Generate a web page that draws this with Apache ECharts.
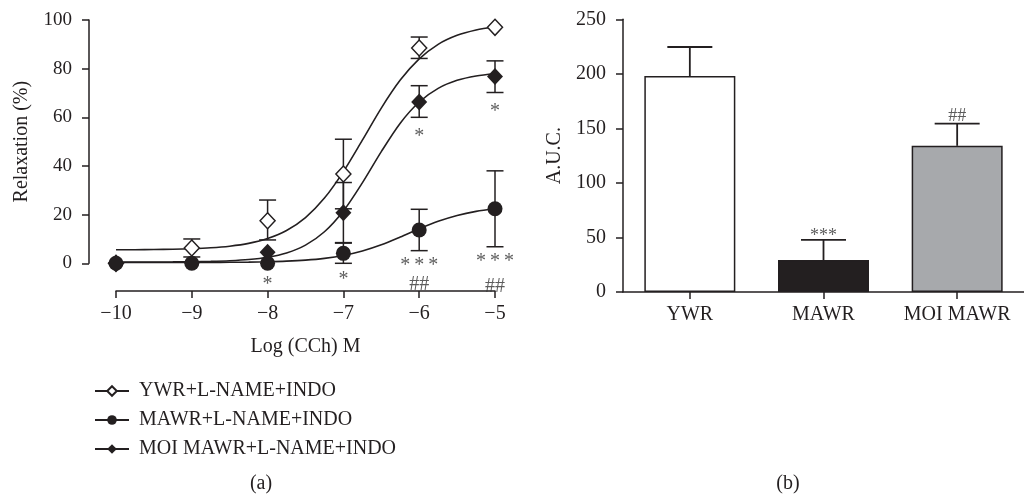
<!DOCTYPE html>
<html>
<head>
<meta charset="utf-8">
<script src="https://cdn.jsdelivr.net/npm/echarts@6/dist/echarts.min.js"></script>
<style>
html,body{margin:0;padding:0;background:#fff;}
#c{width:1024px;height:497px;}
</style>
</head>
<body>
<div id="c"></div>
<script>
// ---------- Panel (a): concentration-response ----------
var doseX = [-10, -9, -8, -7, -6, -5];
var xTicks = [-10, -9, -8, -7, -6, -5];
var ywrMean  = [0, 6.3, 17.5, 36.7, 88.5, 97];
var ywrLow   = [null, 2.6, 9.6, 22.4, 84.2, null];
var ywrHigh  = [null, 10, 26, 51, 93, null];
var mawrMean = [0, 0, 0, 4.1, 13.7, 22.4];
var mawrLow  = [null, null, null, 0, 5.2, 6.8];
var mawrHigh = [null, null, null, 8.3, 22.2, 38];
var moiMean  = [0, null, 4.5, 20.8, 66.3, 76.8];
var moiLow   = [null, null, null, 8.5, 60, 70.2];
var moiHigh  = [null, null, null, 33.2, 73, 83.2];

// fitted curves, every 0.25 log unit
var curveX = [-10, -9.75, -9.5, -9.25, -9, -8.75, -8.5, -8.25, -8, -7.75, -7.5, -7.25, -7, -6.75, -6.5, -6.25, -6, -5.75, -5.5, -5.25, -5];
var ywrCurve  = [5.55, 5.59, 5.66, 5.78, 5.99, 6.36, 7.03, 8.18, 10.16, 13.48, 18.8, 26.8, 37.7, 50.6, 63.8, 75.3, 84.0, 90.0, 93.7, 95.9, 97.25];
var mawrCurve = [0.3, 0.3, 0.31, 0.32, 0.33, 0.36, 0.41, 0.49, 0.63, 0.88, 1.31, 2.04, 3.23, 5.06, 7.61, 10.79, 14.18, 17.25, 19.66, 21.35, 22.43];
var moiCurve  = [0.51, 0.52, 0.54, 0.57, 0.64, 0.78, 1.04, 1.53, 2.48, 4.25, 7.46, 12.96, 21.5, 33.06, 45.9, 57.6, 66.3, 71.9, 75.2, 77.0, 77.9];

var seriesNames = ['YWR+L-NAME+INDO', 'MAWR+L-NAME+INDO', 'MOI MAWR+L-NAME+INDO'];

// significance marks in panel (a)
var annAX    = [-8, -7, -6, -6, -6, -5, -5, -5];
var annAY    = [-6.9, -4.8, 54.2, 1, -6.6, 64.2, 2.5, -7.6];
var annAText = ['*', '*', '*', '*\u2009*\u2009*', '##', '*', '*\u2009*\u2009*', '##'];

// ---------- Panel (b): AUC bars ----------
var barCats  = ['YWR', 'MAWR', 'MOI MAWR'];
var barVals  = [198, 29.3, 134];
var barErrHi = [224.6, 47.7, 154.3];
var barColors = ['#ffffff', '#231f20', '#a7a9ac'];
var annBText = ['', '***', '##'];
var annBY    = [null, 54.4, 164.7];

var INK = '#231f20';
var FONT = 'Liberation Serif';

function pairs(xs, ys) {
  var out = [];
  for (var i = 0; i < xs.length; i++) if (ys[i] !== null) out.push([xs[i], ys[i]]);
  return out;
}
function errTriples(xs, lo, hi) {
  var out = [];
  for (var i = 0; i < xs.length; i++) if (lo[i] !== null) out.push([xs[i], lo[i], hi[i]]);
  return out;
}

function errRender(halfCap, lw) {
  return function (params, api) {
    var x = api.value(0);
    var pLo = api.coord([x, api.value(1)]);
    var pHi = api.coord([x, api.value(2)]);
    var st = { stroke: INK, lineWidth: lw };
    return {
      type: 'group',
      children: [
        { type: 'line', shape: { x1: pLo[0], y1: pLo[1], x2: pHi[0], y2: pHi[1] }, style: st },
        { type: 'line', shape: { x1: pLo[0] - halfCap, y1: pLo[1], x2: pLo[0] + halfCap, y2: pLo[1] }, style: st },
        { type: 'line', shape: { x1: pHi[0] - halfCap, y1: pHi[1], x2: pHi[0] + halfCap, y2: pHi[1] }, style: st }
      ]
    };
  };
}
function barErrRender(params, api) {
  var x = api.value(0);
  var pLo = api.coord([x, api.value(1)]);
  var pHi = api.coord([x, api.value(2)]);
  var st = { stroke: INK, lineWidth: 1.8 };
  return {
    type: 'group',
    children: [
      { type: 'line', shape: { x1: pLo[0], y1: pLo[1], x2: pHi[0], y2: pHi[1] }, style: st },
      { type: 'line', shape: { x1: pHi[0] - 22.5, y1: pHi[1], x2: pHi[0] + 22.5, y2: pHi[1] }, style: st }
    ]
  };
}

var annA = [];
for (var i = 0; i < annAX.length; i++) annA.push({ value: [annAX[i], annAY[i]], label: { formatter: annAText[i] } });
var annB = [];
for (var j = 0; j < barCats.length; j++) if (annBY[j] !== null) annB.push({ value: [j, annBY[j]], label: { formatter: annBText[j] } });

var barData = barVals.map(function (v, k) {
  return { value: v, itemStyle: { color: barColors[k] } };
});
var barErr = barVals.map(function (v, k) { return [k, v, barErrHi[k]]; });

var axisLineStyle = { lineStyle: { color: INK, width: 1.5 } };
var tickStyle = { show: true, inside: false, length: 7, lineStyle: { color: INK, width: 1.5 } };

var chart = echarts.init(document.getElementById('c'), null, { renderer: 'canvas' });
chart.setOption({
  backgroundColor: '#ffffff',
  animation: false,
  textStyle: { fontFamily: FONT, color: INK },
  grid: [
    { left: 89, top: 20, width: 406, height: 243.3 },
    { left: 116, top: 20, width: 379, height: 271 },
    { left: 623, top: 19.3, width: 411, height: 272.7 }
  ],
  xAxis: [
    { gridIndex: 0, type: 'value', min: -10.356, max: -5, show: false },
    { gridIndex: 1, type: 'value', min: -10, max: -5, interval: 1,
      axisLine: axisLineStyle, axisTick: tickStyle, splitLine: { show: false },
      axisLabel: { color: INK, fontFamily: FONT, fontSize: 20, margin: 13,
        formatter: function (v) { return xTicks.indexOf(v) >= 0 ? '\u2212' + Math.abs(v) : ''; } },
      name: 'Log (CCh) M', nameLocation: 'middle', nameGap: 46,
      nameTextStyle: { color: INK, fontFamily: FONT, fontSize: 20 } },
    { gridIndex: 2, type: 'category', data: barCats,
      axisLine: axisLineStyle, axisTick: { show: true, alignWithLabel: true, length: 7, lineStyle: { color: INK, width: 1.5 } },
      axisLabel: { color: INK, fontFamily: FONT, fontSize: 20, margin: 13, interval: 0 } }
  ],
  yAxis: [
    { gridIndex: 0, type: 'value', min: 0, max: 100, interval: 20,
      axisLine: { show: true, lineStyle: { color: INK, width: 1.5 } }, axisTick: tickStyle, splitLine: { show: false },
      axisLabel: { color: INK, fontFamily: FONT, fontSize: 19, margin: 17 },
      name: 'Relaxation (%)', nameLocation: 'middle', nameGap: 57,
      nameTextStyle: { color: INK, fontFamily: FONT, fontSize: 20 } },
    { gridIndex: 1, type: 'value', min: 0, max: 100, show: false },
    { gridIndex: 2, type: 'value', min: 0, max: 250, interval: 50,
      axisLine: { show: true, lineStyle: { color: INK, width: 1.5 } }, axisTick: tickStyle, splitLine: { show: false },
      axisLabel: { color: INK, fontFamily: FONT, fontSize: 20, margin: 17 },
      name: 'A.U.C.', nameLocation: 'middle', nameGap: 58,
      nameTextStyle: { color: INK, fontFamily: FONT, fontSize: 20 } }
  ],
  legend: {
    data: seriesNames,
    orient: 'vertical',
    left: 89, top: 376,
    itemWidth: 34, itemHeight: 12, itemGap: 9,
    textStyle: { color: INK, fontFamily: FONT, fontSize: 20, padding: [0, 0, 0, 5] },
    selectedMode: false
  },
  graphic: [
    { type: 'text', x: 261, y: 484, style: { text: '(a)', fill: INK, font: '20px "Liberation Serif"', textAlign: 'center', textVerticalAlign: 'middle' } },
    { type: 'text', x: 788, y: 484, style: { text: '(b)', fill: INK, font: '20px "Liberation Serif"', textAlign: 'center', textVerticalAlign: 'middle' } }
  ],
  series: [
    // fitted curves (these carry the legend entries)
    { name: seriesNames[0], type: 'line', xAxisIndex: 0, yAxisIndex: 0, data: pairs(curveX, ywrCurve),
      smooth: 0.3, showSymbol: false, symbol: 'diamond', symbolSize: 12,
      lineStyle: { color: INK, width: 1.6 }, itemStyle: { color: '#ffffff', borderColor: INK, borderWidth: 1.5 }, z: 2, clip: false },
    { name: seriesNames[1], type: 'line', xAxisIndex: 0, yAxisIndex: 0, data: pairs(curveX, mawrCurve),
      smooth: 0.3, showSymbol: false, symbol: 'circle', symbolSize: 11,
      lineStyle: { color: INK, width: 1.6 }, itemStyle: { color: INK }, z: 2, clip: false },
    { name: seriesNames[2], type: 'line', xAxisIndex: 0, yAxisIndex: 0, data: pairs(curveX, moiCurve),
      smooth: 0.3, showSymbol: false, symbol: 'diamond', symbolSize: 12,
      lineStyle: { color: INK, width: 1.6 }, itemStyle: { color: INK }, z: 2, clip: false },
    // error bars
    { type: 'custom', xAxisIndex: 0, yAxisIndex: 0, data: errTriples(doseX, ywrLow, ywrHigh), renderItem: errRender(8.5, 1.5), z: 3, clip: false },
    { type: 'custom', xAxisIndex: 0, yAxisIndex: 0, data: errTriples(doseX, mawrLow, mawrHigh), renderItem: errRender(8.5, 1.5), z: 3, clip: false },
    { type: 'custom', xAxisIndex: 0, yAxisIndex: 0, data: errTriples(doseX, moiLow, moiHigh), renderItem: errRender(8.5, 1.5), z: 3, clip: false },
    // mean points
    { name: 'ywr-pts', type: 'scatter', xAxisIndex: 0, yAxisIndex: 0, data: pairs(doseX, ywrMean),
      symbol: 'diamond', symbolSize: [15, 16], itemStyle: { color: '#ffffff', borderColor: INK, borderWidth: 1.5, opacity: 1 }, z: 4, clip: false },
    { name: 'mawr-pts', type: 'scatter', xAxisIndex: 0, yAxisIndex: 0, data: pairs(doseX, mawrMean),
      symbol: 'circle', symbolSize: 15, itemStyle: { color: INK, opacity: 1 }, z: 5, clip: false },
    { name: 'moi-pts', type: 'scatter', xAxisIndex: 0, yAxisIndex: 0, data: pairs(doseX, moiMean),
      symbol: 'diamond', symbolSize: [16, 17], itemStyle: { color: INK, opacity: 1 }, z: 6, clip: false },
    // significance marks (a)
    { name: 'ann-a', type: 'scatter', xAxisIndex: 0, yAxisIndex: 0, data: annA, symbolSize: 0, silent: true, clip: false,
      label: { show: true, position: 'inside', color: '#333', fontFamily: FONT, fontSize: 20, offset: [0, 5] }, z: 7 },
    // panel (b)
    { name: 'auc', type: 'bar', xAxisIndex: 2, yAxisIndex: 2, data: barData, barWidth: 91,
      itemStyle: { borderColor: INK, borderWidth: 1.5 }, z: 2 },
    { type: 'custom', xAxisIndex: 2, yAxisIndex: 2, data: barErr, renderItem: barErrRender, z: 3, clip: false },
    { name: 'ann-b', type: 'scatter', xAxisIndex: 2, yAxisIndex: 2, data: annB, symbolSize: 0, silent: true, clip: false,
      label: { show: true, position: 'inside', color: '#333', fontFamily: FONT, fontSize: 18, offset: [0, 4] }, z: 7 }
  ]
});
</script>
</body>
</html>
